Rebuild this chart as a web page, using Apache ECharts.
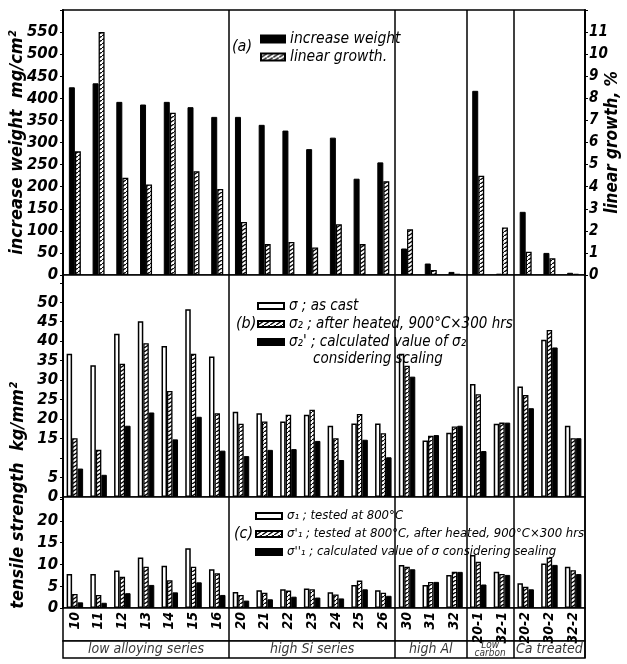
<!DOCTYPE html>
<html><head><meta charset="utf-8">
<script src="https://cdn.jsdelivr.net/npm/echarts@6/dist/echarts.min.js"></script>
<style>html,body{margin:0;padding:0;background:#fff}#c{width:627px;height:664px}</style>
</head><body><div id="c"></div>
<script>
// ---------- data ----------
const categories = ['10','11','12','13','14','15','16','20','21','22','23','24','25','26','30','31','32','20-1','32-1','20-2','30-2','32-2'];
const groupNames = ['low alloying series','high Si series','high Al','Low\ncarbon','Ca treated'];
const groupSizes = [7,7,3,2,3];
// panel (a)
const increaseWeight = [425,434,392,386,392,380,358,358,340,327,285,311,218,255,60,26,7,417,3,143,50,5];
const linearGrowth = [5.6,11.0,4.4,4.1,7.35,4.7,3.9,2.4,1.4,1.5,1.25,2.3,1.4,4.25,2.07,0.23,0.05,4.5,2.15,1.05,0.76,0.05];
// panel (b)
const asCast = [36.8,33.8,41.9,45.1,38.8,48.2,36.1,21.9,21.5,19.4,21.1,18.3,18.9,18.9,36.8,14.5,16.5,29.0,18.8,28.4,40.4,18.3];
const afterHeated = [15.1,12.1,34.2,39.5,27.2,36.8,21.5,18.8,19.4,21.1,22.4,15.1,21.3,16.4,33.7,15.7,18.1,26.4,19.1,26.2,42.9,15.1];
const calcScalingB = [7.3,5.7,18.3,21.7,14.8,20.6,11.9,10.5,12.1,12.3,14.4,9.5,14.7,10.2,30.9,15.9,18.3,11.8,19.1,22.8,38.4,15.1];
// panel (c)
const tested800 = [7.8,7.8,8.6,11.6,9.7,13.7,8.9,3.7,4.1,4.3,4.5,3.6,5.3,4.1,9.9,5.3,7.6,12.2,8.3,5.7,10.2,9.5];
const tested800After = [3.2,3.0,7.2,9.5,6.4,9.5,8.0,3.0,3.5,4.0,4.3,3.1,6.3,3.5,9.5,6.0,8.3,10.6,7.8,4.9,11.6,8.7];
const calcScalingC = [1.3,1.2,3.4,5.3,3.6,5.9,3.0,1.7,2.0,2.6,2.4,2.2,4.3,2.8,8.9,6.0,8.3,5.4,7.6,4.3,9.9,7.8];
// tick labels
const ticksA = [0,50,100,150,200,250,300,350,400,450,500,550];
const ticksRight = [0,1,2,3,4,5,6,7,8,9,10,11];
const ticksB = [0,5,15,20,25,30,35,40,45,50];
const ticksC = [0,5,10,15,20];

// ---------- helpers ----------
const FONT = "'Liberation Sans Narrow','DejaVu Sans Condensed','Liberation Sans',sans-serif";
function hatch(){
  const c = document.createElement('canvas'); c.width = 6; c.height = 4;
  const g = c.getContext('2d');
  g.fillStyle = '#fff'; g.fillRect(0,0,6,4);
  g.strokeStyle = '#000'; g.lineWidth = 1.3;
  g.beginPath(); g.moveTo(-1,4.7); g.lineTo(7,-0.7); g.stroke();
  return {image: c, repeat: 'repeat'};
}
const HATCH = hatch();
const boundaries = []; { let s = 0; for (let i = 0; i < groupSizes.length - 1; i++) { s += groupSizes[i]; boundaries.push(s); } }
const groupCenters = []; { let s = 0; groupSizes.forEach(n => { groupCenters.push(s + n/2); s += n; }); }
const sep = {show:true, interval:(i)=>boundaries.indexOf(i) >= 0, lineStyle:{color:'#000', width:1.5}};
const tickFont = {fontFamily: FONT, fontStyle:'italic', fontWeight:'bold', fontSize:16.5, color:'#000'};
const legText = {fontFamily: FONT, fontStyle:'italic', fontSize:14, color:'#000', lineHeight:16};
const gridBase = {left:63, right:42, show:true, borderColor:'#000', borderWidth:1.5, backgroundColor:'#fff', outerBoundsMode:'none', containLabel:false};

function catAxis(gi, showLabel){
  return {type:'category', gridIndex:gi, data:categories, boundaryGap:true,
    axisLine:{show:false}, axisTick:{show:false}, splitLine:sep,
    axisLabel: showLabel ? {show:true, interval:0, rotate:90, margin:4, fontFamily:FONT, fontStyle:'italic', fontWeight:'bold', fontSize:14, color:'#000'} : {show:false}};
}
function valAxis(gi, min, max, interval, shown, extra, labelExtra){
  return Object.assign({type:'value', gridIndex:gi, min:min, max:max, interval:interval,
    axisLine:{show:true, lineStyle:{color:'#000', width:2}},
    axisTick:{show:true, length:3, lineStyle:{color:'#000'}},
    splitLine:{show:false},
    axisLabel:Object.assign({margin:5, formatter:(v)=> shown.indexOf(v) >= 0 ? String(v) : ''}, tickFont, labelExtra || {})}, extra || {});
}
function bar(name, data, xi, yi, style){
  return {type:'bar', name:name, data:data, xAxisIndex:xi, yAxisIndex:yi,
    barWidth: xi === 0 ? 6 : 5.5, barGap:'0%', itemStyle:style, silent:true};
}
const BLACK = {color:'#000', borderColor:'#000', borderWidth:1};
const OPEN = {color:'#fff', borderColor:'#000', borderWidth:1.5};
const HATCHED = {color:HATCH, borderColor:'#000', borderWidth:1.3};

const namesA = ['increase weight','linear growth.'];
const namesB = ['σ ; as cast','σ₂ ; after heated, 900°C×300 hrs',"σ₂' ; calculated value of σ₂"];
const namesC = ['σ₁ ; tested at 800°C',"σ'₁ ; tested at 800°C, after heated, 900°C×300 hrs","σ''₁ ; calculated value of σ considering sealing"];

const groupData = groupNames.map((n,i)=>{
  const small = n.indexOf('\n') >= 0;
  return {value:[groupCenters[i], 0.5], name:n,
    label: small ? {fontSize:10, lineHeight:8} : {}};
});

const chart = echarts.init(document.getElementById('c'), null, {renderer:'canvas'});
chart.setOption({
  animation:false,
  backgroundColor:'#fff',
  title:[
    {text:'(a)', left:232, top:39, padding:0, textStyle:Object.assign({}, legText, {fontSize:16, fontWeight:'normal'})},
    {text:'(b)', left:236, top:316, padding:0, textStyle:Object.assign({}, legText, {fontSize:16, fontWeight:'normal'})},
    {text:'(c)', left:234, top:526, padding:0, textStyle:Object.assign({}, legText, {fontSize:16, fontWeight:'normal'})},
    {text:'considering scaling', left:313, top:351, padding:0, textStyle:Object.assign({}, legText, {fontSize:15, fontWeight:'normal'})}
  ],
  legend:[
    {data:namesA, left:260, top:31, padding:0, orient:'vertical', icon:'rect', itemWidth:24, itemHeight:7, itemGap:2, textStyle:Object.assign({}, legText, {fontSize:15.5}), selectedMode:false},
    {data:namesB, left:257, top:298, padding:0, orient:'vertical', icon:'rect', itemWidth:26, itemHeight:6, itemGap:2, textStyle:Object.assign({}, legText, {fontSize:15}), selectedMode:false},
    {data:namesC, left:255, top:508, padding:0, orient:'vertical', icon:'rect', itemWidth:26, itemHeight:6, itemGap:2, textStyle:Object.assign({}, legText, {fontSize:13}), selectedMode:false}
  ],
  grid:[
    Object.assign({top:10, height:265}, gridBase),
    Object.assign({top:275, height:222}, gridBase),
    Object.assign({top:497, height:111}, gridBase),
    Object.assign({top:608, height:33}, gridBase),
    Object.assign({top:641, height:17}, gridBase)
  ],
  xAxis:[
    catAxis(0,false), catAxis(1,false), catAxis(2,true), catAxis(3,false), catAxis(4,false),
    {type:'value', gridIndex:4, min:0, max:categories.length, show:false}
  ],
  yAxis:[
    valAxis(0, 0, 600, 50, ticksA, {name:'increase weight  mg/cm²', nameLocation:'middle', nameGap:37, nameRotate:90, nameMoveOverlap:false,
      nameTextStyle:{fontFamily:FONT, fontStyle:'italic', fontWeight:'bold', fontSize:18, color:'#000'}}),
    valAxis(0, 0, 12, 1, ticksRight, {position:'right', name:'linear growth, %', nameLocation:'middle', nameGap:19, nameRotate:90, nameMoveOverlap:false,
      nameTextStyle:{fontFamily:FONT, fontStyle:'italic', fontWeight:'bold', fontSize:17, color:'#000'}}, {fontSize:15, margin:4}),
    valAxis(1, 0, 57, 5, ticksB),
    valAxis(2, 0, 25.5, 5, ticksC),
    {type:'value', gridIndex:3, show:false},
    {type:'value', gridIndex:4, min:0, max:1, show:false}
  ],
  graphic:[
    {type:'text', left:9, top:382, rotation:Math.PI/2,
     style:{text:'tensile strength  kg/mm²', fontFamily:FONT, fontStyle:'italic', fontWeight:'bold', fontSize:18, fill:'#000'}}
  ],
  series:[
    bar(namesA[0], increaseWeight, 0, 0, BLACK),
    bar(namesA[1], linearGrowth, 0, 1, HATCHED),
    bar(namesB[0], asCast, 1, 2, OPEN),
    bar(namesB[1], afterHeated, 1, 2, HATCHED),
    bar(namesB[2], calcScalingB, 1, 2, BLACK),
    bar(namesC[0], tested800, 2, 3, OPEN),
    bar(namesC[1], tested800After, 2, 3, HATCHED),
    bar(namesC[2], calcScalingC, 2, 3, BLACK),
    {type:'scatter', xAxisIndex:5, yAxisIndex:5, data:groupData, symbolSize:1, silent:true,
     itemStyle:{color:'rgba(0,0,0,0)'},
     label:{show:true, position:'inside', formatter:(p)=>p.name, fontFamily:FONT, fontStyle:'italic', fontSize:14, color:'#000'}}
  ]
});
</script></body></html>
